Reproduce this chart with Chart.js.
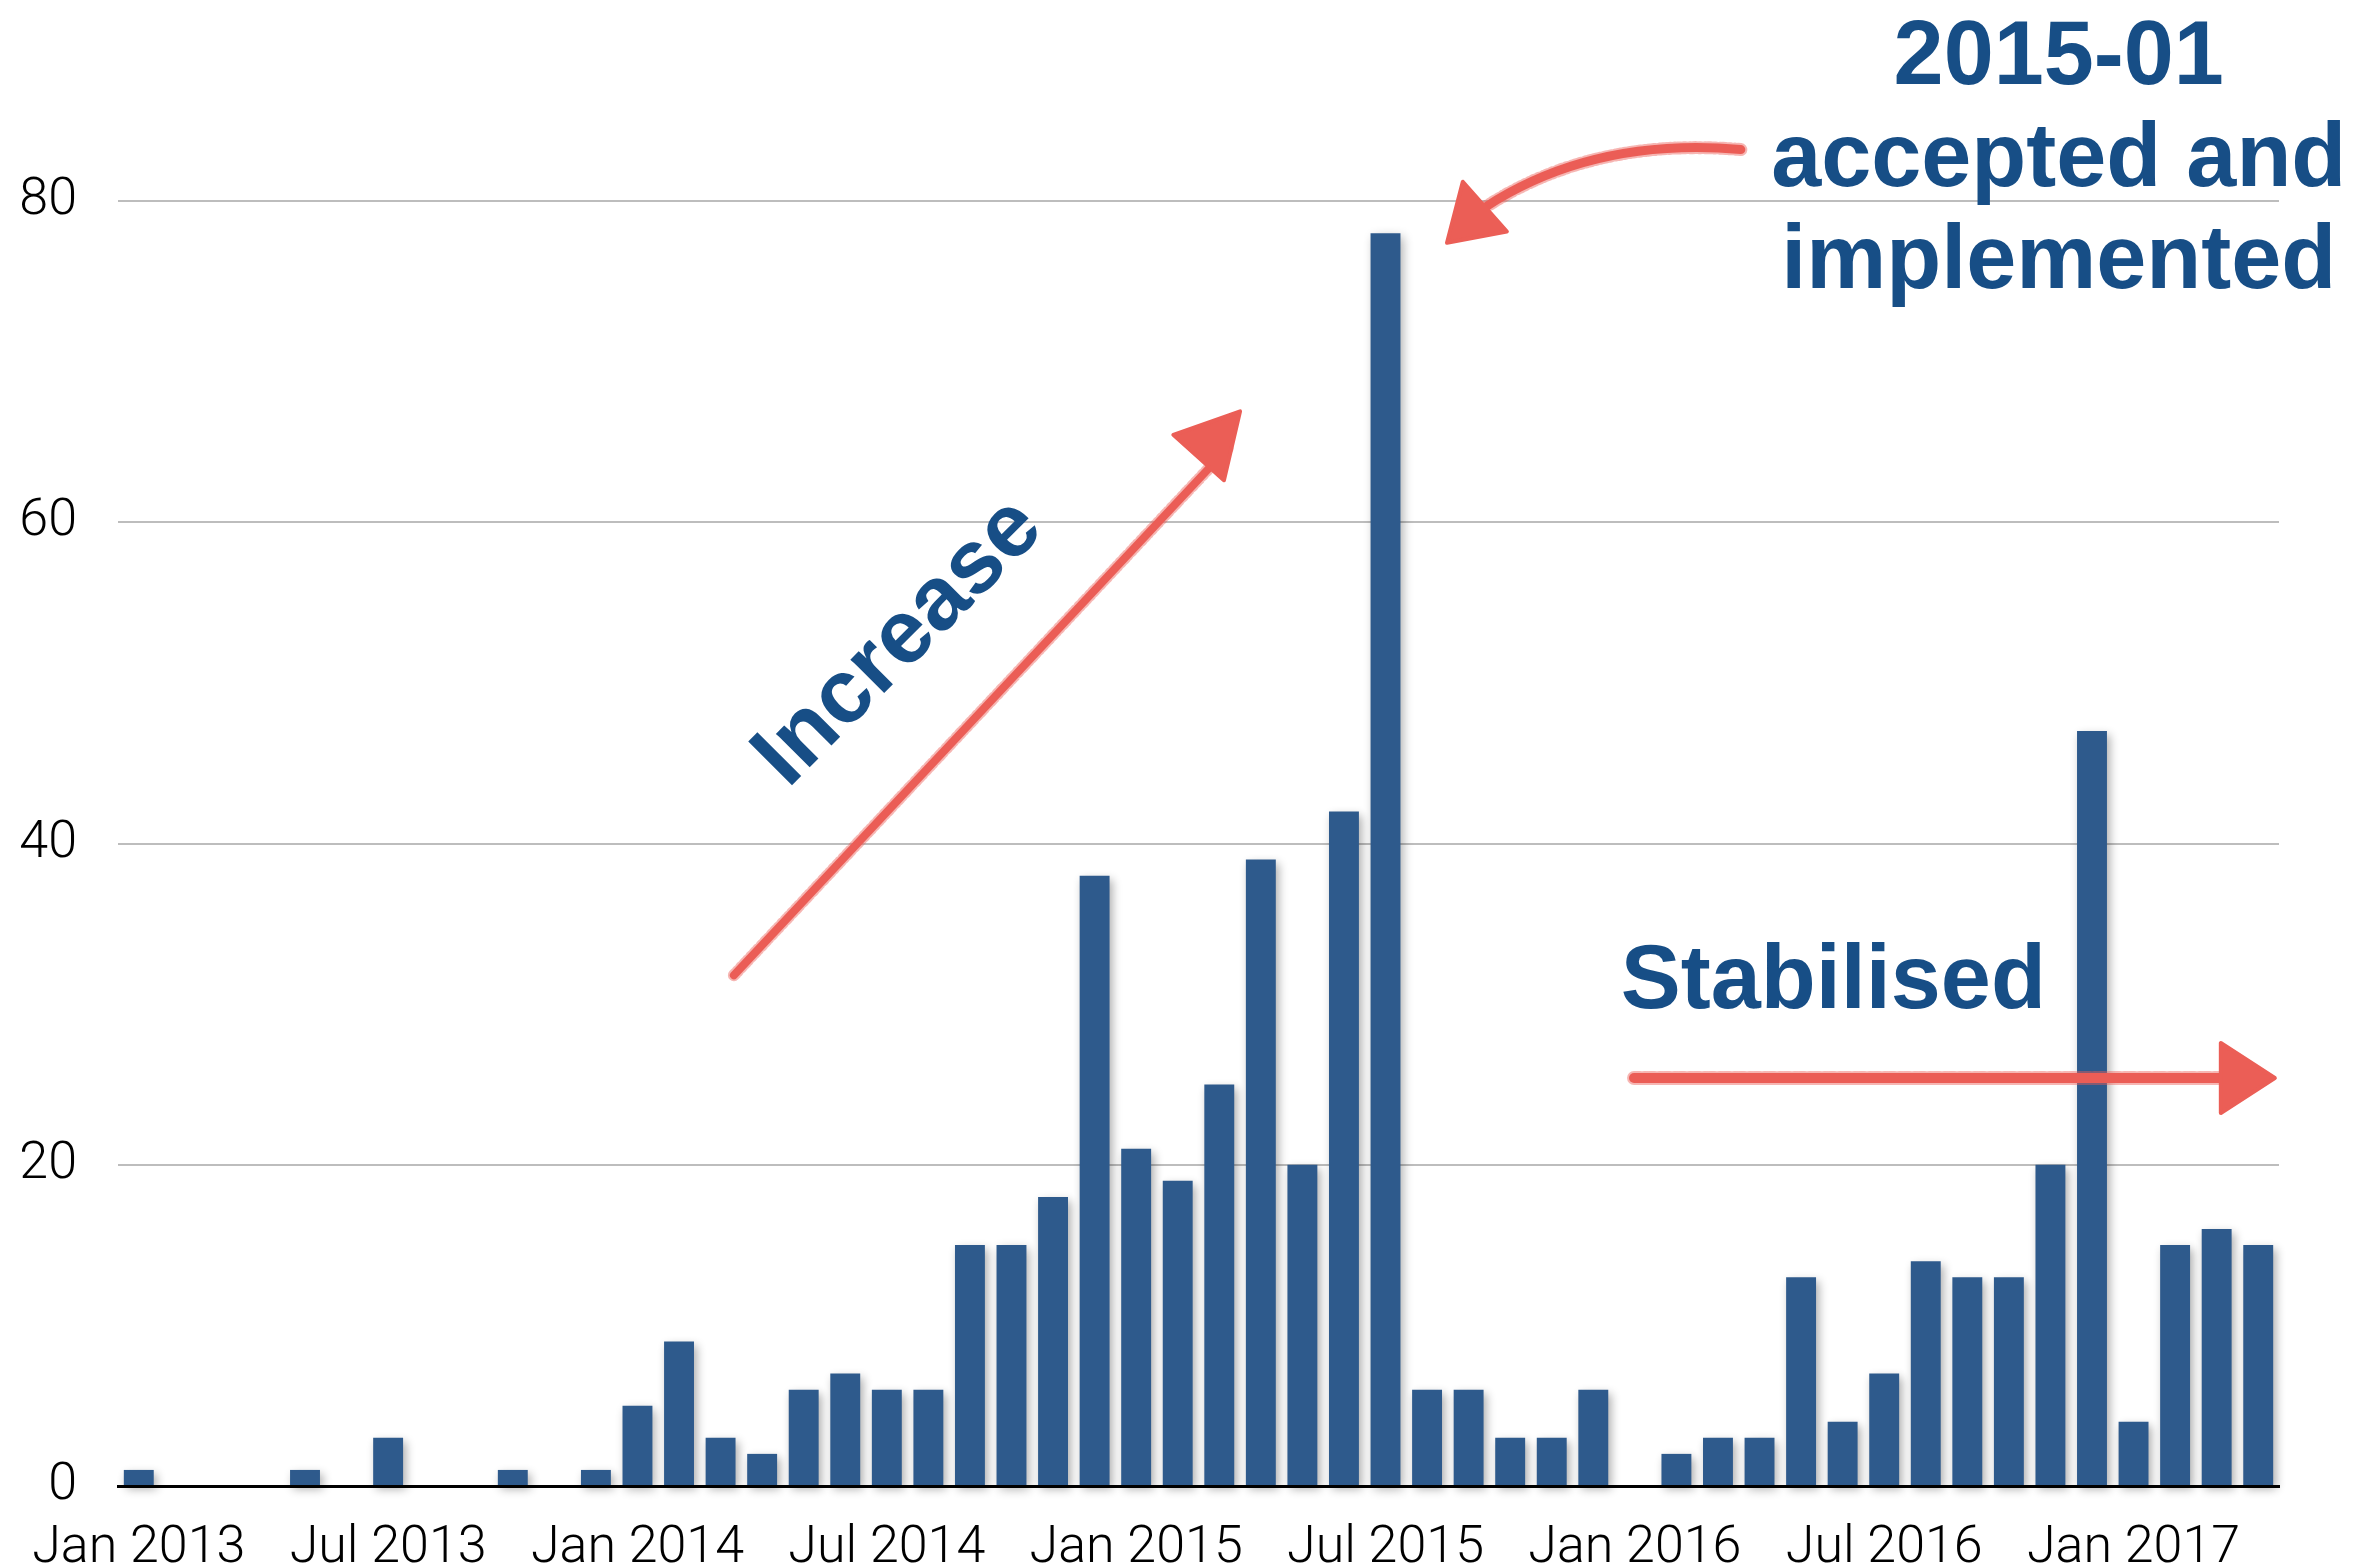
<!DOCTYPE html>
<html>
<head>
<meta charset="utf-8">
<script src="https://cdn.jsdelivr.net/npm/chart.js@4.4.0/dist/chart.umd.min.js"></script>
<style>
html,body{margin:0;padding:0;background:#fff;overflow:hidden;}
#wrap{width:2372px;height:1565px;}
</style>
</head>
<body>
<div id="wrap"><canvas id="chart" width="2372" height="1565"></canvas></div>
<script>
/* ---------- data ---------- */
const months = [
  "Jan 2013","Feb 2013","Mar 2013","Apr 2013","May 2013","Jun 2013","Jul 2013","Aug 2013","Sep 2013","Oct 2013","Nov 2013","Dec 2013",
  "Jan 2014","Feb 2014","Mar 2014","Apr 2014","May 2014","Jun 2014","Jul 2014","Aug 2014","Sep 2014","Oct 2014","Nov 2014","Dec 2014",
  "Jan 2015","Feb 2015","Mar 2015","Apr 2015","May 2015","Jun 2015","Jul 2015","Aug 2015","Sep 2015","Oct 2015","Nov 2015","Dec 2015",
  "Jan 2016","Feb 2016","Mar 2016","Apr 2016","May 2016","Jun 2016","Jul 2016","Aug 2016","Sep 2016","Oct 2016","Nov 2016","Dec 2016",
  "Jan 2017","Feb 2017","Mar 2017","Apr 2017"
];
const counts = [
  1,0,0,0,1,0,3,0,0,1,0,1,
  5,9,3,2,6,7,6,6,15,15,18,38,
  21,19,25,39,20,42,78,6,6,3,3,6,
  0,2,3,3,13,4,7,14,13,13,20,47,
  4,15,16,15
];
const yTicks = [0,20,40,60,80];
const shownTicks = ["Jan 2013","Jul 2013","Jan 2014","Jul 2014","Jan 2015","Jul 2015","Jan 2016","Jul 2016","Jan 2017"];

/* ---------- styles ---------- */
const BAR = "#2E5A8C";
const INK = "#174E86";
const RED = "#EB5E56";
const tickFont = {family:"Roboto", size:52, weight:"300"};

/* ---------- plugins ---------- */
const barShadow = {
  id:"barShadow",
  beforeDatasetsDraw(chart){
    const c = chart.ctx;
    c.save();
    c.shadowColor = "rgba(0,0,0,0.32)";
    c.shadowBlur = 10;
    c.shadowOffsetX = 3;
    c.shadowOffsetY = 4;
  },
  afterDatasetsDraw(chart){ chart.ctx.restore(); }
};

function chalkStroke(ctx, pathFn, w){
  ctx.save();
  ctx.strokeStyle = RED;
  ctx.lineCap = "round";
  ctx.lineJoin = "round";
  ctx.lineWidth = w;
  ctx.beginPath(); pathFn(); ctx.stroke();
  ctx.globalAlpha = 0.45;
  ctx.lineWidth = w + 4;
  ctx.setLineDash([3,2,1,4,2,3]);
  ctx.beginPath(); pathFn(); ctx.stroke();
  ctx.restore();
}
function head(ctx, pts){
  ctx.save();
  ctx.fillStyle = RED;
  ctx.strokeStyle = RED;
  ctx.lineJoin = "round";
  ctx.lineWidth = 4;
  ctx.beginPath();
  ctx.moveTo(pts[0][0], pts[0][1]);
  ctx.lineTo(pts[1][0], pts[1][1]);
  ctx.lineTo(pts[2][0], pts[2][1]);
  ctx.closePath();
  ctx.fill(); ctx.stroke();
  ctx.restore();
}

const annotate = {
  id:"annotate",
  afterDraw(chart){
    const {ctx, scales:{x, y}} = chart;
    const at = (i, v) => [x.getPixelForValue(i), y.getPixelForValue(v)];

    // "Increase" arrow
    const a0 = at(14.32, 31.8), a1 = at(26.2, 64.6), tip = at(26.5, 66.9);
    chalkStroke(ctx, () => { ctx.moveTo(a0[0], a0[1]); ctx.lineTo(a1[0], a1[1]); }, 8);
    const dx = tip[0]-a0[0], dy = tip[1]-a0[1], L = Math.hypot(dx, dy);
    const ux = dx/L, uy = dy/L, hl = 62, hw = 34;
    const bx = tip[0]-ux*hl, by = tip[1]-uy*hl;
    head(ctx, [tip, [bx - uy*hw, by + ux*hw], [bx + uy*hw, by - ux*hw]]);

    // curved arrow to the peak
    const c0 = at(38.55, 83.2), cc = at(35.0, 84.0), c1 = at(32.39, 79.6);
    chalkStroke(ctx, () => { ctx.moveTo(c0[0], c0[1]); ctx.quadraticCurveTo(cc[0], cc[1], c1[0], c1[1]); }, 9);
    head(ctx, [at(31.48, 77.4), at(31.86, 81.2), at(32.92, 78.1)]);

    // "Stabilised" arrow
    const s0 = at(35.98, 25.4), s1 = at(50.2, 25.4);
    chalkStroke(ctx, () => { ctx.moveTo(s0[0], s0[1]); ctx.lineTo(s1[0], s1[1]); }, 10);
    const st = at(51.4, 25.4);
    head(ctx, [st, [x.getPixelForValue(50.1), st[1]-35], [x.getPixelForValue(50.1), st[1]+35]]);

    // texts
    ctx.save();
    ctx.fillStyle = INK;
    ctx.font = "bold 90px 'Liberation Sans', Arial, sans-serif";
    ctx.textAlign = "center";
    ctx.textBaseline = "alphabetic";
    const t = at(46.2, 87.3);
    ["2015-01", "accepted and", "implemented"].forEach((s, k) => ctx.fillText(s, t[0], t[1] + k*102));

    ctx.textAlign = "left";
    const sp = at(35.66, 29.76);
    ctx.fillText("Stabilised", sp[0], sp[1]);

    const ip = at(18.3, 52.5);
    ctx.translate(ip[0], ip[1]);
    ctx.rotate(-Math.PI/4);
    ctx.textAlign = "center";
    ctx.textBaseline = "middle";
    ctx.fillText("Increase", 0, 0);
    ctx.restore();
  }
};

/* ---------- chart ---------- */
new Chart(document.getElementById("chart"), {
  type: "bar",
  data: {
    labels: months,
    datasets: [{
      data: counts,
      backgroundColor: BAR,
      borderWidth: 0,
      barPercentage: 0.72,
      categoryPercentage: 1,
      clip: false
    }]
  },
  options: {
    responsive: false,
    animation: false,
    devicePixelRatio: 1,
    layout: {padding: {top: 201, right: 93, left: 0, bottom: 0}},
    plugins: {legend: {display: false}, tooltip: {enabled: false}},
    scales: {
      x: {
        z: 1,
        grid: {display: false},
        border: {display: true, color: "#000", width: 3},
        ticks: {
          autoSkip: false, maxRotation: 0, minRotation: 0, padding: 24,
          color: "#000", font: tickFont,
          callback: (v, i) => shownTicks.includes(months[i]) ? months[i] : ""
        },
        afterFit(s){ s.height = 79; }
      },
      y: {
        min: yTicks[0], max: yTicks[yTicks.length-1],
        border: {display: false},
        grid: {
          drawTicks: false, lineWidth: 2,
          color: c => c.tick.value === 0 ? "rgba(0,0,0,0)" : "#BDBDBD"
        },
        ticks: {stepSize: 20, padding: 41, color: "#000", font: tickFont},
        afterFit(s){ s.width = 118; }
      }
    }
  },
  plugins: [barShadow, annotate]
});
</script>
</body>
</html>
